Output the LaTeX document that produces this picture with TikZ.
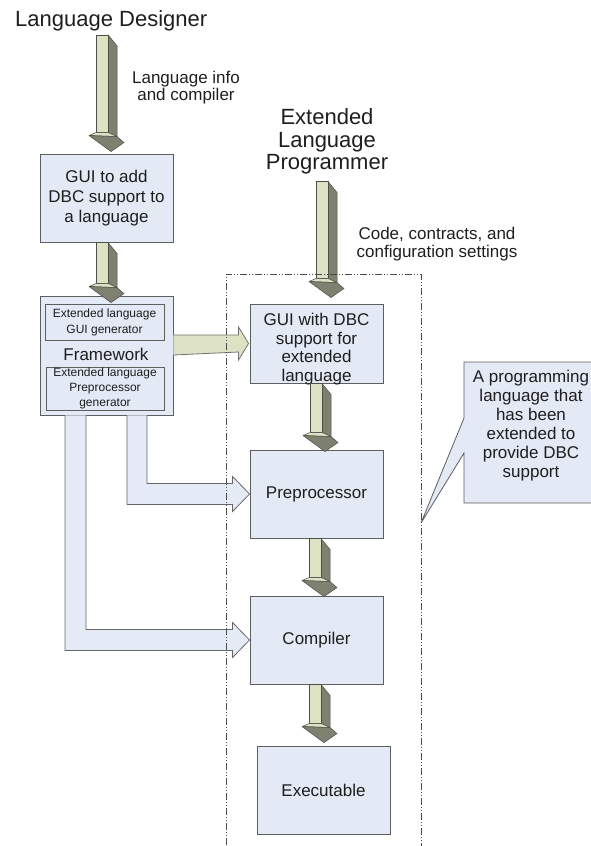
\documentclass[tikz,border=0pt]{standalone}
\usepackage{fontspec}
\setmainfont{Liberation Sans}
\usetikzlibrary{calc}
\definecolor{boxfill}{HTML}{E3E9F5}
\definecolor{boxline}{HTML}{5E5E5E}
\definecolor{arrlight}{HTML}{DDE2C5}
\definecolor{arrdark}{HTML}{7E8070}
\definecolor{arrline}{HTML}{4E4F46}
\definecolor{bentfill}{HTML}{E5EBF6}
\definecolor{txt}{HTML}{1E1E1E}
\tikzset{
 box/.style={draw=boxline, fill=boxfill, line width=0.9pt, inner sep=0pt, align=center, text=txt, font=\fontsize{17}{20}\selectfont},
 lbl/.style={inner sep=0pt, align=center, text=txt},
 tdlight/.style={fill=arrlight, draw=arrline, line width=0.5pt, line join=round},
 tddark/.style={fill=arrdark, draw=arrline, line width=0.5pt, line join=round},
 flatarrow/.style={fill=arrlight, draw=black!55, line width=0.8pt},
 bentarrow/.style={fill=bentfill, draw=black!60, line width=0.8pt},
 frameline/.style={draw=black!70, line width=0.7pt, dash pattern=on 7pt off 2pt on 1pt off 2pt on 1pt off 2pt},
 callout/.style={fill=boxfill, draw=boxline, line width=0.8pt},
}
\newcommand{\tdarrow}[5]{%
 \coordinate (X) at (#1,0);
 \coordinate (T) at ($(#2.south -| X)+(0,#4)$);
 \coordinate (P) at ($(#3.north -| X)+(0,#5)$);
 \coordinate (H) at ($(P)+(0,-19)$);
 \filldraw[tddark] ($(T)+(6,0)$) -- ($(T)+(15,11)$) -- ($(H)+(15,4)$) -- ($(H)+(6,0)$) -- cycle;
 \filldraw[tdlight] ($(T)+(-6,0)$) -- ($(T)+(6,0)$) -- ($(H)+(6,0)$) -- ($(H)+(-6,0)$) -- cycle;
 \filldraw[tdlight] ($(H)+(-13,3)$) -- ($(H)+(-6,0)$) -- ($(H)+(6,0)$) -- ($(H)+(15,4)$) -- cycle;
 \filldraw[tddark] ($(H)+(-13,3)$) -- ($(P)+(9,0)$) -- ($(P)+(22,-9)$) -- ($(H)+(15,4)$) -- cycle;
}
\begin{document}
\begin{tikzpicture}[x=1pt,y=-1pt]
\useasboundingbox (0,0) rectangle (590,846);
% nodes
\node[lbl, font=\fontsize{22}{23}\selectfont, anchor=base west] (des) at (15,26) {Language Designer};
\node[lbl, font=\fontsize{17}{17}\selectfont] (info) at (186,88) {Language info\\and compiler};
\node[box, minimum width=133pt, minimum height=88pt] (gui1) at (106.5,198) {GUI to add\\DBC support to\\a language};
\node[box, minimum width=133pt, minimum height=119pt] (fw) at (106.5,355.5) {};
\node[box, font=\fontsize{12}{16}\selectfont, minimum width=119pt, minimum height=36pt] (fwgui) at (104.5,322) {Extended language\\GUI generator};
\node[lbl, font=\fontsize{17}{20}\selectfont] (fwlabel) at (106,354) {Framework};
\node[box, font=\fontsize{12}{15}\selectfont, minimum width=118pt, minimum height=43pt] (fwpre) at (105,388.5) {Extended language\\Preprocessor\\generator};
\node[lbl, font=\fontsize{22}{22.5}\selectfont] (prog) at (327,141.5) {Extended\\Language\\Programmer};
\node[lbl, font=\fontsize{17}{18}\selectfont] (code) at (437,244.5) {Code, contracts, and\\configuration settings};
\node[box, minimum width=133pt, minimum height=79pt] (gui2) at (316.5,343.5) {};
\node[lbl, font=\fontsize{17}{18.7}\selectfont] (gui2txt) at (316.5,349) {GUI with DBC\\support for\\extended\\language};
\node[box, minimum width=133pt, minimum height=88pt] (pre) at (316.5,494) {Preprocessor};
\node[box, minimum width=133pt, minimum height=88pt] (comp) at (316.5,640) {Compiler};
\node[box, minimum width=133pt, minimum height=88pt] (exec) at (323.5,790) {Executable};
% callout
\coordinate (tip) at (421,523);
\filldraw[callout] (464,362) -- (600,362) -- (600,503) -- (464,503) -- (464,453) -- (tip) -- (464,418) -- cycle;
\node[lbl, font=\fontsize{17}{19}\selectfont] (note) at (531,426) {A programming\\language that\\has been\\extended to\\provide DBC\\support};
% 3D arrows
\tdarrow{102}{des}{gui1}{4}{-2}
\tdarrow{102}{gui1}{fw}{0}{7}
\tdarrow{322}{prog}{gui2}{7}{-6}
\tdarrow{316}{gui2}{pre}{0}{2}
\tdarrow{315}{pre}{comp}{0}{1}
\tdarrow{315}{comp}{exec}{0}{-3}
% flat arrow framework -> gui2
\filldraw[flatarrow] ($(fw.east |- gui2.west)+(0,-8.5)$) -- ($(gui2.west)+(-11,-8.5)$) -- ++(0,-8) -- ($(gui2.west)+(-1,0)$) -- ($(gui2.west)+(-11,16.5)$) -- ++(0,-8) -- ($(fw.east |- gui2.west)+(0,11.5)$);
% bent arrows
\coordinate (b1) at (137,0);
\coordinate (b2) at (75.5,0);
\filldraw[bentarrow] ($(fw.south -| b1)+(10,0)$) |- ($(pre.west)+(-17,-10.5)$) -- ++(0,-7) -- (pre.west) -- ($(pre.west)+(-17,17.5)$) -- ++(0,-7) -| ($(fw.south -| b1)+(-10,0)$);
\filldraw[bentarrow] ($(fw.south -| b2)+(10.5,0)$) |- ($(comp.west)+(-17,-10.5)$) -- ++(0,-7) -- (comp.west) -- ($(comp.west)+(-17,17.5)$) -- ++(0,-7) -| ($(fw.south -| b2)+(-10.5,0)$);
% dash-dot frame
\coordinate (fa) at (226,860);
\coordinate (fb) at (421,274);
\draw[frameline] (fa) |- (fb) -- (fb |- fa);
\end{tikzpicture}
\end{document}
